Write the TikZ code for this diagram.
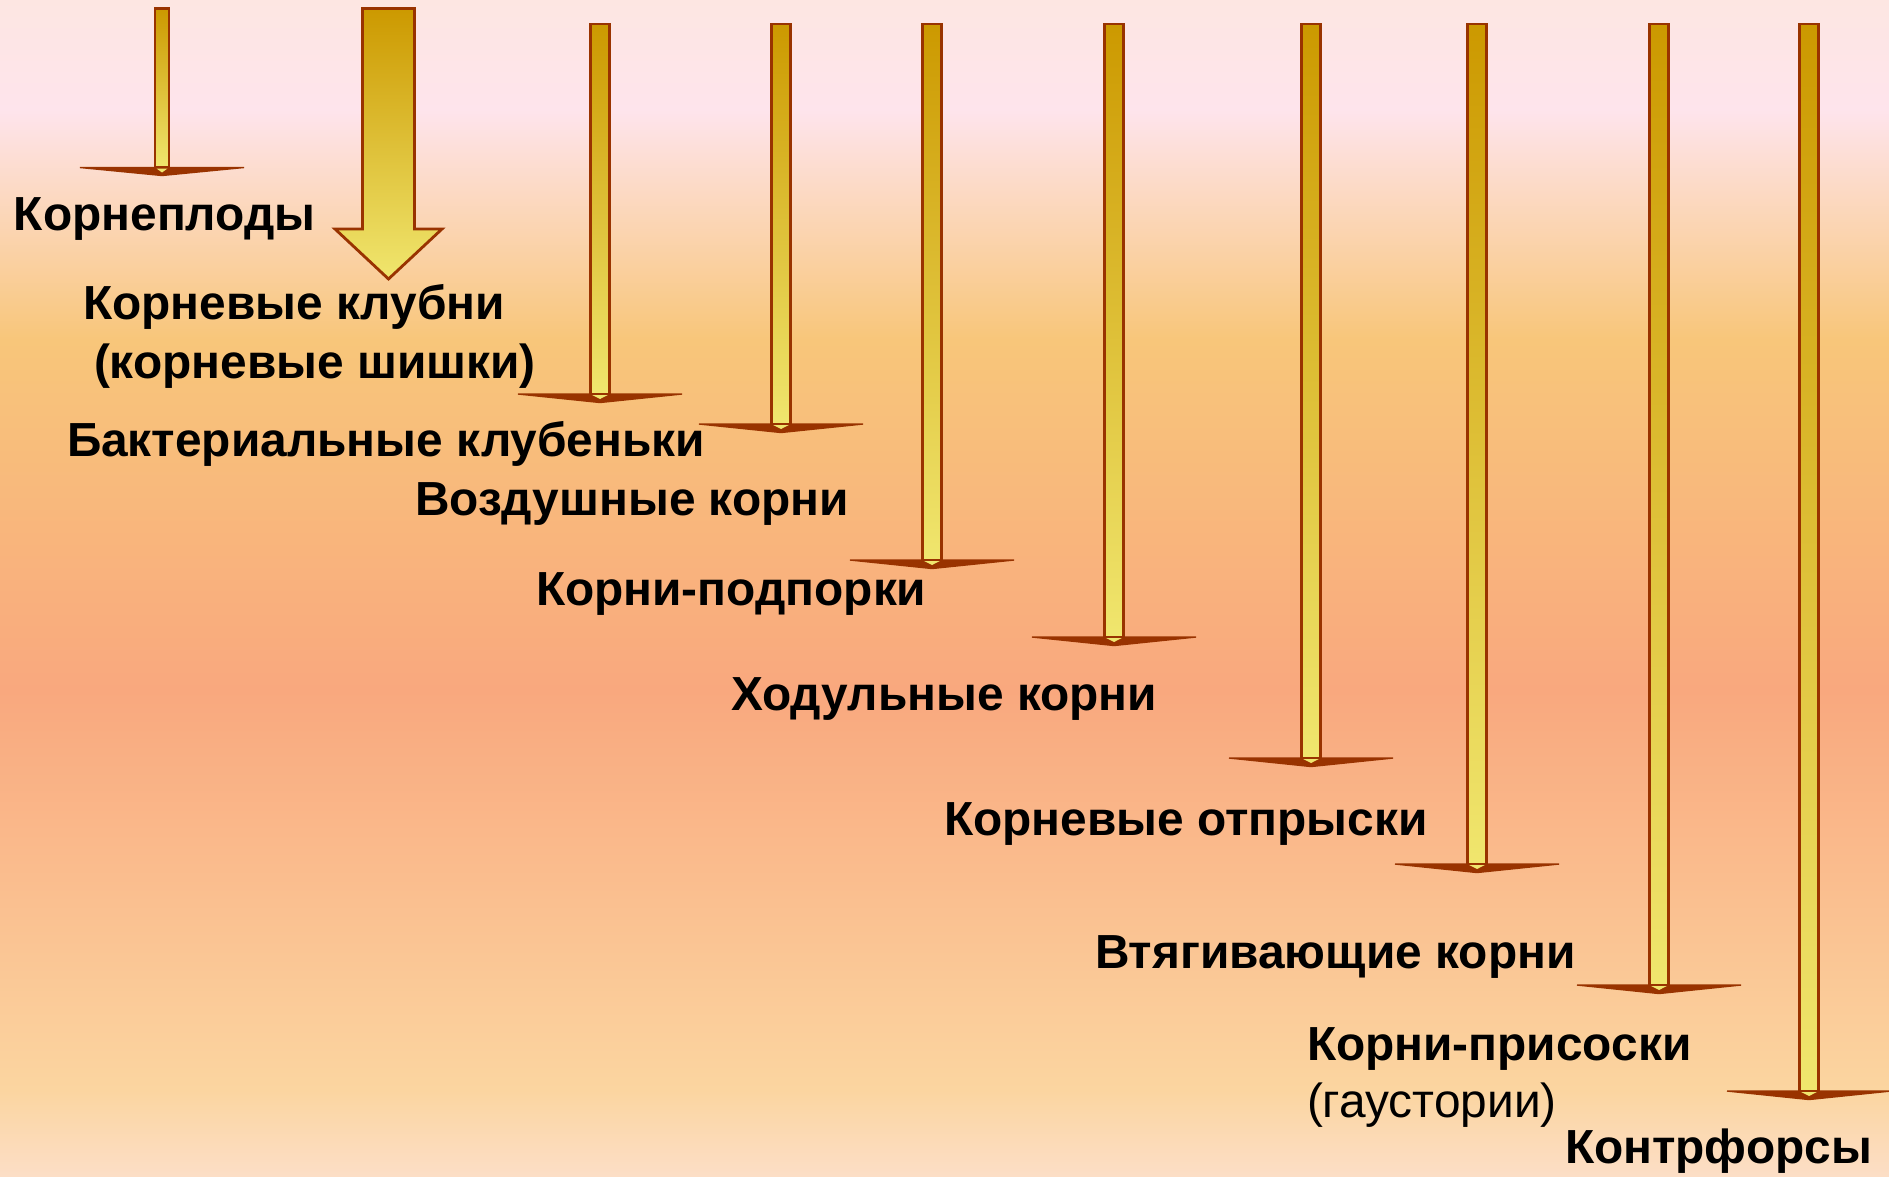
\documentclass[tikz,border=0pt]{standalone}
\usepackage{fontspec}
\setmainfont{Liberation Sans}
\usepackage{tikz}
\usetikzlibrary{calc}
\definecolor{bga}{RGB}{253,230,226}
\definecolor{bgb}{RGB}{254,228,236}
\definecolor{bgc}{RGB}{248,198,122}
\definecolor{bgd}{RGB}{249,168,126}
\definecolor{bge}{RGB}{251,213,160}
\definecolor{bgf}{RGB}{252,222,198}
\definecolor{arrgold}{RGB}{204,153,0}
\definecolor{arryellow}{RGB}{240,230,110}
\definecolor{arrbrown}{RGB}{153,51,0}

\begin{document}
\begin{tikzpicture}[x=0.01cm,y=-0.01cm,
  lbl/.style={anchor=base west,inner sep=0pt,outer sep=0pt,font=\fontsize{13.6}{16}\selectfont\bfseries},
  shaft/.style={draw=arrbrown,line width=0.8pt,top color=arrgold,bottom color=arryellow},
  wings/.style={fill=arrbrown,draw=arrbrown,line width=0.4pt}]
\useasboundingbox (0,0) rectangle (1889,1176);
% background
\shade[top color=bga,bottom color=bgb] (0,0) rectangle (1889,110);
\shade[top color=bgb,bottom color=bgc] (0,110) rectangle (1889,340);
\shade[top color=bgc,bottom color=bgd] (0,340) rectangle (1889,690);
\shade[top color=bgd,bottom color=bge] (0,690) rectangle (1889,1090);
\shade[top color=bge,bottom color=bgf] (0,1090) rectangle (1889,1176);
% arrows
\shadedraw[shaft] (155,8.5) rectangle (169,167.5);
\filldraw[wings] (80,167.5) -- (244,167.5) -- (162,175.5) -- cycle;
\fill[arryellow] (156.5,168.5) -- (167.5,168.5) -- (162,172.5) -- cycle;
\shadedraw[shaft] (362.5,8.5) -- (414.5,8.5) -- (414.5,229) -- (442,229) -- (388.5,279) -- (335,229) -- (362.5,229) -- cycle;
\foreach \cx/\hy in {600/394,781/424,932/560,1114/637,1311/758,1477/864,1659/985,1809/1091}{
  \shadedraw[shaft] (\cx-9.2,24) rectangle (\cx+9.2,\hy);
  \filldraw[wings] (\cx-82,\hy) -- (\cx+82,\hy) -- (\cx,\hy+8.5) -- cycle;
  \fill[arryellow] (\cx-7.8,\hy+1) -- (\cx+7.8,\hy+1) -- (\cx,\hy+5) -- cycle;
}
% labels
\node[lbl] (kornepl) at (14,230) {Корнеплоды};
\node[lbl] (klubni) at (83,319) {Корневые клубни};
\node[lbl] (shishki) at (94,378) {(корневые шишки)};
\node[lbl] (bakt) at (67,456) {Бактериальные клубеньки};
\node[lbl] (vozd) at (415,515) {Воздушные корни};
\node[lbl] (podp) at (536,605) {Корни-подпорки};
\node[lbl] (hodul) at (731,710) {Ходульные корни};
\node[lbl] (otpr) at (944,835) {Корневые отпрыски};
\node[lbl] (vtyag) at (1095,968) {Втягивающие корни};
\node[lbl] (prisos) at (1307,1060) {Корни-присоски};
\node[lbl,font=\fontsize{13.6}{16}\selectfont] (gaust) at (1307,1117) {(гаустории)};
\node[lbl] (kontr) at (1565,1163) {Контрфорсы};
\end{tikzpicture}
\end{document}
